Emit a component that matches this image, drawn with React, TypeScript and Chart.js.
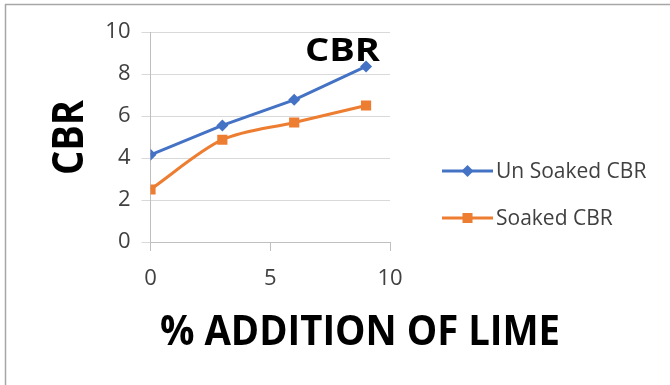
import { useEffect, useRef } from "react";
import { Chart, registerables } from "chart.js";

Chart.register(...registerables);

// Lime content (%) and the CBR values measured at each dose
const limePercent = [0, 3, 6, 9];
const unSoakedCbr = [4.15, 5.55, 6.77, 8.36];
const soakedCbr = [2.5, 4.87, 5.69, 6.5];

const seriesNames = ["Un Soaked CBR", "Soaked CBR"];
const seriesColors = ["#4472c4", "#ed7d31"];

const xMin = 0;
const xMax = 10;
const xStep = 5;
const yMin = 0;
const yMax = 10;
const yStep = 2;

const chartTitle = "CBR";
const xAxisTitle = "% ADDITION OF LIME";
const yAxisTitle = "CBR";

const FONT = '"Open Sans", "DejaVu Sans", sans-serif';

// Draws text whose cap height and overall run length are fixed,
// squeezing/stretching horizontally along the text direction.
function drawFitted(
  ctx: CanvasRenderingContext2D,
  text: string,
  baseX: number,
  baseY: number,
  capHeight: number,
  runLength: number,
  rotate: boolean,
  weight: string,
  color: string
) {
  const size = capHeight / 0.714;
  ctx.save();
  ctx.font = `${weight} ${size}px ${FONT}`;
  const w = ctx.measureText(text).width;
  ctx.translate(baseX, baseY);
  if (rotate) ctx.rotate(-Math.PI / 2);
  ctx.scale(runLength / w, 1);
  ctx.fillStyle = color;
  ctx.textAlign = "center";
  ctx.textBaseline = "alphabetic";
  ctx.fillText(text, 0, 0);
  ctx.restore();
}

function drawMarker(ctx: CanvasRenderingContext2D, kind: string, x: number, y: number, color: string) {
  ctx.save();
  ctx.fillStyle = color;
  ctx.beginPath();
  if (kind === "rectRot") {
    const r = 6;
    ctx.moveTo(x, y - r);
    ctx.lineTo(x + r, y);
    ctx.lineTo(x, y + r);
    ctx.lineTo(x - r, y);
    ctx.closePath();
  } else {
    const h = 5;
    ctx.rect(x - h, y - h, 2 * h, 2 * h);
  }
  ctx.fill();
  ctx.restore();
}

const decorations = {
  id: "decorations",
  beforeDatasetsDraw(chart: Chart) {
    const ctx = chart.ctx;
    // chart title sits inside the plot, under the series lines
    drawFitted(ctx, chartTitle, 342.5, 61, 23, 75, false, "bold", "#000000");
  },
  afterDraw(chart: Chart) {
    const ctx = chart.ctx;
    ctx.save();
    // frame edges
    ctx.strokeStyle = "#a6a6a6";
    ctx.lineWidth = 1.5;
    ctx.beginPath();
    ctx.moveTo(5, 4.5);
    ctx.lineTo(670, 4.5);
    ctx.moveTo(5.5, 4);
    ctx.lineTo(5.5, 385);
    ctx.stroke();
    ctx.restore();

    // axis titles
    drawFitted(ctx, xAxisTitle, 360, 345, 30, 400, false, "bold", "#000000");
    drawFitted(ctx, yAxisTitle, 83, 137.5, 31, 75, true, "bold", "#000000");

    // legend
    const rows = [171, 218];
    const kinds = ["rectRot", "rect"];
    chart.data.datasets.forEach((ds, i) => {
      const y = rows[i];
      ctx.save();
      ctx.strokeStyle = seriesColors[i];
      ctx.lineWidth = 3;
      ctx.beginPath();
      ctx.moveTo(442, y);
      ctx.lineTo(493, y);
      ctx.stroke();
      ctx.restore();
      drawMarker(ctx, kinds[i], 467.5, y, seriesColors[i]);
      ctx.save();
      ctx.font = `21px ${FONT}`;
      ctx.fillStyle = "#404040";
      ctx.textAlign = "left";
      ctx.textBaseline = "middle";
      ctx.fillText(String(ds.label), 496, y + 1);
      ctx.restore();
    });
  },
};

export default function App() {
  const canvasRef = useRef<HTMLCanvasElement | null>(null);

  useEffect(() => {
    const canvas = canvasRef.current;
    if (!canvas) return;
    const chart = new Chart(canvas, {
      type: "line",
      data: {
        datasets: [
          {
            label: seriesNames[0],
            data: limePercent.map((x, i) => ({ x, y: unSoakedCbr[i] })),
            borderColor: seriesColors[0],
            backgroundColor: seriesColors[0],
            borderWidth: 3,
            pointStyle: "rectRot",
            pointRadius: 6,
            pointBorderWidth: 0,
            tension: 0,
          },
          {
            label: seriesNames[1],
            data: limePercent.map((x, i) => ({ x, y: soakedCbr[i] })),
            borderColor: seriesColors[1],
            backgroundColor: seriesColors[1],
            borderWidth: 3,
            pointStyle: "rect",
            pointRadius: 7.2,
            pointBorderWidth: 0,
            tension: 0.3,
          },
        ],
      },
      options: {
        animation: false,
        responsive: false,
        devicePixelRatio: 1,
        layout: { padding: { left: 100, right: 280, top: 32, bottom: 83 } },
        plugins: {
          legend: { display: false },
          title: { display: false },
          tooltip: { enabled: false },
        },
        scales: {
          x: {
            type: "linear",
            min: xMin,
            max: xMax,
            afterFit: (s: any) => {
              s.height = 60;
            },
            ticks: {
              stepSize: xStep,
              color: "#404040",
              font: { family: FONT, size: 22 },
              padding: 15,
            },
            grid: {
              drawOnChartArea: false,
              drawTicks: true,
              tickLength: 9,
              tickColor: "#bfbfbf",
            },
            border: { color: "#bfbfbf", width: 1 },
          },
          y: {
            type: "linear",
            min: yMin,
            max: yMax,
            afterFit: (s: any) => {
              s.width = 50.5;
            },
            ticks: {
              stepSize: yStep,
              color: "#404040",
              font: { family: FONT, size: 22 },
              padding: 11,
            },
            grid: {
              color: "#d9d9d9",
              tickLength: 9,
              tickColor: "#d9d9d9",
            },
            border: { color: "#bfbfbf", width: 1 },
          },
        },
      },
      plugins: [decorations],
    });
    return () => chart.destroy();
  }, []);

  return (
    <div style={{ position: "absolute", left: 0, top: 0, width: 670, height: 385, background: "#ffffff" }}>
      <canvas ref={canvasRef} width={670} height={385} />
    </div>
  );
}
